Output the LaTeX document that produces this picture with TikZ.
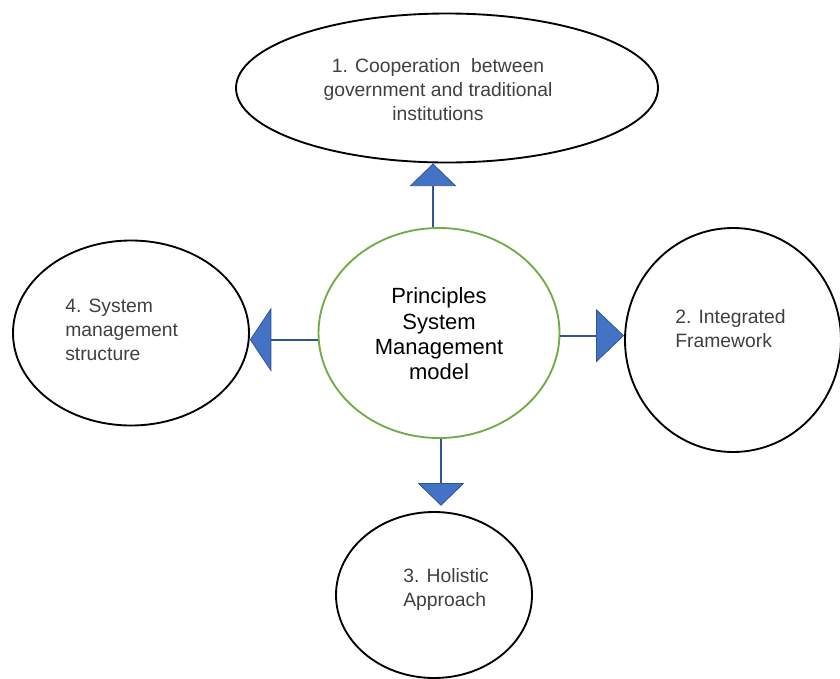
\documentclass[tikz,border=0pt]{standalone}
\usepackage{fontspec}
\setmainfont{Liberation Sans}
\usetikzlibrary{shapes.geometric,arrows.meta}
\definecolor{flowblue}{HTML}{4472C4}
\definecolor{flowline}{HTML}{2F5597}
\definecolor{leafgreen}{HTML}{70AD47}
\definecolor{txtgray}{HTML}{404040}

\begin{document}
\begin{tikzpicture}[x={(.75pt,0)},y={(0,-.75pt)},
	oval/.style={ellipse,draw=black,line width=1.4pt,inner sep=0pt},
	hub/.style={ellipse,draw=leafgreen,line width=1.4pt,inner sep=0pt},
	lbl/.style={text=txtgray,font=\fontsize{14.5}{18}\selectfont,inner sep=0pt},
	flow/.style={draw=flowline,line width=1.5pt},
	tip/.style={-{Triangle[#1,fill=flowblue,color=flowline,line width=.6pt]}}]
	\useasboundingbox (0,0) rectangle (840,679);
	% the model and its four principles
	\node[hub,minimum width=180.75pt,minimum height=157.5pt] (pr) at (439,333) {};
	\node[oval,minimum width=316.5pt,minimum height=111.75pt] (co) at (447,88) {};
	\node[oval,minimum width=162pt,minimum height=168pt] (ig) at (733,340) {};
	\node[oval,minimum width=147pt,minimum height=124.5pt] (ho) at (434,595) {};
	\node[oval,minimum width=177pt,minimum height=138.75pt] (sm) at (131,333) {};
	% texts
	\node[lbl,text=black,align=center,font=\fontsize{16.5}{19}\selectfont] (prt) at (439,334)
		{Principles\\System\\Management\\model};
	\node[lbl,align=center] (cot) at (438,90)
		{1. Cooperation\ \ between\\government and traditional\\institutions};
	\node[lbl,align=left,anchor=west] (igt) at (675,329) {2. Integrated\\Framework};
	\node[lbl,align=left,anchor=west] (hot) at (403,589) {3. Holistic\\Approach};
	\node[lbl,align=left,anchor=west] (smt) at (65,330) {4. System\\management\\structure};
	% arrows
	\draw[flow,tip={width=35pt,length=17pt}] ([xshift=-4.5pt]pr.north) -- ([xshift=-4.5pt]pr.north |- co.south);
	\draw[flow,tip={width=40pt,length=21pt}] ([yshift=-2pt]pr.east) -- ([yshift=-2pt]pr.east -| ig.west);
	\draw[flow,tip={width=35pt,length=17pt}] ([xshift=1.5pt]pr.south) -- ([xshift=1.5pt,yshift=4pt]pr.south |- ho.north);
	\draw[flow,tip={width=48pt,length=16pt}] ([yshift=-5pt]pr.west) -- ([yshift=-5pt]pr.west -| sm.east);
\end{tikzpicture}
\end{document}
